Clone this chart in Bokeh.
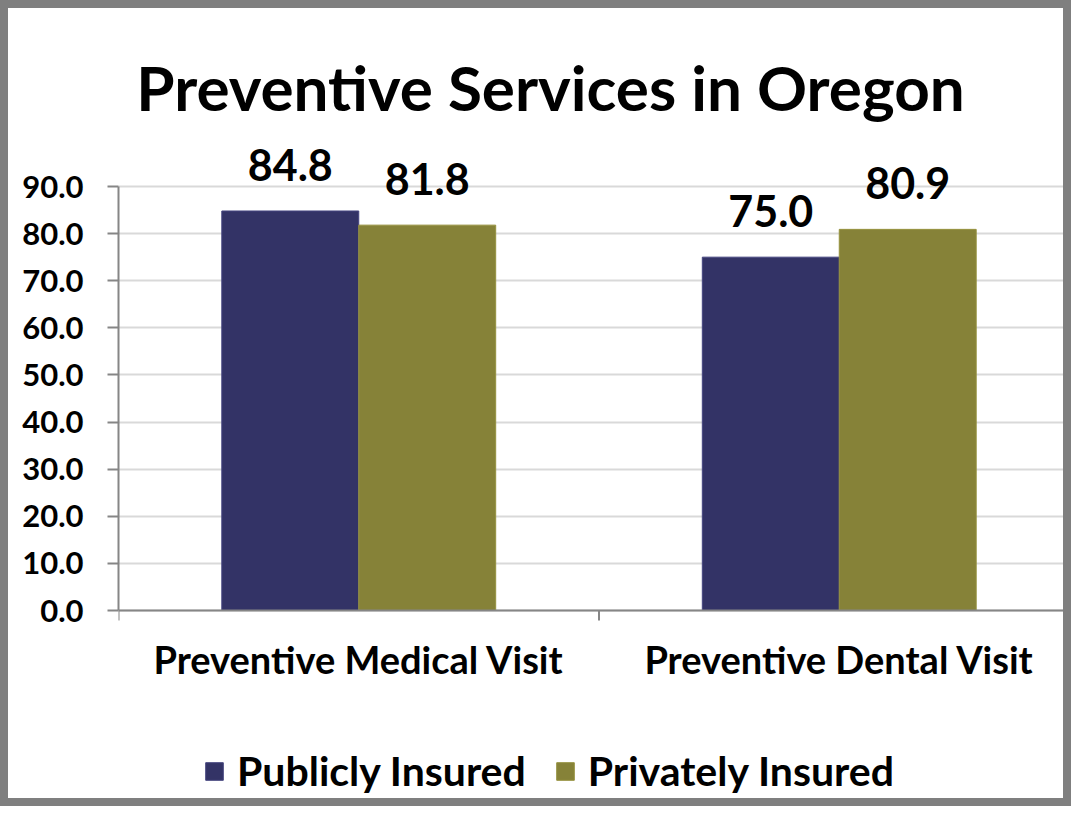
from bokeh.plotting import figure
from bokeh.models import (ColumnDataSource, FactorRange, Range1d, FixedTicker,
                          NumeralTickFormatter, LabelSet, Label, Span)
from bokeh.transform import dodge
from bokeh.core.properties import value
from bokeh.embed import file_html
from bokeh.resources import INLINE

# ---- data ----
categories = ["Preventive Medical Visit", "Preventive Dental Visit"]
publicly_insured = [84.8, 75.0]
privately_insured = [81.8, 80.9]
series_names = ["Publicly Insured", "Privately Insured"]
y_ticks = [0, 10, 20, 30, 40, 50, 60, 70, 80, 90]
boundaries = [0, 1, 2]          # category boundaries in factor-range coordinates
title_text = "Preventive Services in Oregon"

# ---- styles / layout ----
FONT = "Lato"
C_PUB = "#333366"
C_PRI = "#868238"
AXIS_C = "#868686"
GRID_C = "#d9d9d9"
BAR_W = 0.285
W, H = 1071, 806
LEFT, TOP, BOTTOM = 110, 4, 4
ZERO_Y = 602                    # canvas pixel of the zero line
PX_PER_UNIT = 424 / 90.0
Y_MIN = -(H - BOTTOM - ZERO_Y) / PX_PER_UNIT
Y_MAX = (ZERO_Y - TOP) / PX_PER_UNIT
TICK_LEN = 10 / PX_PER_UNIT

src = ColumnDataSource(dict(
    cat=categories,
    pub=publicly_insured,
    pri=privately_insured,
    zero=[0] * len(categories),
    pub_txt=["%.1f" % v for v in publicly_insured],
    pri_txt=["%.1f" % v for v in privately_insured],
))
bsrc = ColumnDataSource(dict(x=boundaries, y0=[0] * 3, y1=[-TICK_LEN] * 3))

p = figure(width=W, height=H, output_backend="svg", toolbar_location=None,
           x_range=FactorRange(factors=categories, range_padding=0),
           y_range=Range1d(Y_MIN, Y_MAX), x_axis_location=None,
           min_border_left=LEFT, min_border_right=0, min_border_top=TOP, min_border_bottom=BOTTOM)
p.outline_line_color = None
p.background_fill_color = "white"
p.border_fill_color = "white"
p.styles = {"border": "8px solid #7f7f7f"}

# grid
p.ygrid.grid_line_color = GRID_C
p.ygrid.grid_line_width = 2
p.xgrid.grid_line_color = None

# bars
p.vbar(x=dodge("cat", -BAR_W / 2, range=p.x_range), top="pub", width=BAR_W, source=src,
       fill_color=C_PUB, line_color="#45457f", line_width=1, legend_label=series_names[0])
p.vbar(x=dodge("cat", BAR_W / 2, range=p.x_range), top="pri", width=BAR_W, source=src,
       fill_color=C_PRI, line_color="#96923f", line_width=1, legend_label=series_names[1])

# x axis line and boundary ticks
p.add_layout(Span(location=0, dimension="width", line_color=AXIS_C, line_width=2))
p.segment(x0="x", x1="x", y0="y0", y1="y1", source=bsrc, line_color=AXIS_C, line_width=2)

# category labels
p.add_layout(LabelSet(x="cat", y="zero", text="cat", source=src, y_offset=-63,
                      text_align="center", text_baseline="alphabetic",
                      text_font=value(FONT), text_font_style="bold", text_font_size="38px",
                      text_color="black"))

# value labels
for off, col in [(-BAR_W / 2, "pub"), (BAR_W / 2, "pri")]:
    p.add_layout(LabelSet(x=dodge("cat", off, range=p.x_range), y=col, text=col + "_txt", source=src,
                          text_align="center", text_baseline="alphabetic", y_offset=30,
                          text_font=value(FONT), text_font_style="bold", text_font_size="43px",
                          text_color="black"))

# y axis
yax = p.yaxis[0]
yax.ticker = FixedTicker(ticks=y_ticks)
yax.bounds = (0, 90)
yax.formatter = NumeralTickFormatter(format="0.0")
yax.axis_line_color = AXIS_C
yax.axis_line_width = 2
yax.major_tick_line_color = AXIS_C
yax.major_tick_line_width = 2
yax.major_tick_out = 11
yax.major_tick_in = 0
yax.minor_tick_line_color = None
yax.major_label_text_font = FONT
yax.major_label_text_font_style = "bold"
yax.major_label_text_font_size = "31px"
yax.major_label_text_color = "black"
yax.major_label_standoff = 24

# title
p.add_layout(Label(x=432, y=724, x_units="screen", y_units="screen", text=title_text,
                   text_align="center", text_baseline="alphabetic",
                   text_font=FONT, text_font_style="bold", text_font_size="62px",
                   text_color="black"))

# legend
lg = p.legend[0]
lg.location = (85, 15)
lg.orientation = "horizontal"
lg.border_line_color = None
lg.background_fill_alpha = 0
lg.padding = 0
lg.margin = 0
lg.glyph_width = 22
lg.glyph_height = 22
lg.label_standoff = 12
lg.spacing = 28
lg.label_text_font = FONT
lg.label_text_font_style = "bold"
lg.label_text_font_size = "41px"
lg.label_text_color = "black"

open("out.html", "w").write(file_html(p, INLINE))
